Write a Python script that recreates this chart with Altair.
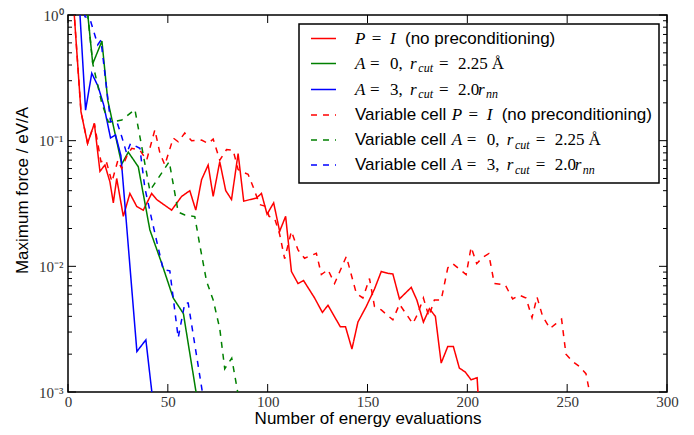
import altair as alt
import pandas as pd

# ---------------- data ----------------
# P = I (no preconditioning)
red_x = [0, 6.5, 9.8, 13.2, 16, 18.5, 21, 22.7, 24.4, 27.7,
         31, 34.4, 37.7, 41.9, 44.4, 51.9, 56.9, 61, 64, 66.9,
         70.2, 72.7, 76, 79, 81.9, 85.2, 88, 94.4, 96.9, 99.7,
         103, 106, 109, 111.9, 115.2, 118, 123.5, 127.4, 130.2, 136.4,
         139, 142.2, 145.2, 149.4, 153.5, 156.9, 160.2, 162.7, 166, 171.9,
         174.7, 178, 181, 184, 186.9, 190.2, 193, 196, 199, 201.9,
         204.9, 205.5]
red_y = [5.3, 0.170, 0.095, 0.137, 0.057, 0.064, 0.047, 0.032, 0.050, 0.025,
         0.038, 0.030, 0.028, 0.038, 0.034, 0.028, 0.036, 0.040, 0.028, 0.049,
         0.064, 0.036, 0.068, 0.040, 0.034, 0.079, 0.033, 0.035, 0.038, 0.026,
         0.032, 0.019, 0.025, 0.0091, 0.0073, 0.0077, 0.0056, 0.0043, 0.0049, 0.0033,
         0.0033, 0.0022, 0.0036, 0.0048, 0.0066, 0.0091, 0.0088, 0.0087, 0.0055, 0.0068,
         0.0054, 0.0036, 0.0046, 0.0040, 0.0017, 0.0023, 0.0023, 0.00155, 0.00144, 0.00125,
         0.0013, 0.0009]

# A = 0, r_cut = 2.25 A
green_x = [8, 12.4, 17, 19.9, 26.9, 30.2, 35.2, 41, 46.9, 52.7, 57.8, 65]
green_y = [2.0, 0.41, 0.62, 0.21, 0.065, 0.081, 0.062, 0.0195, 0.0106, 0.0056, 0.0042, 0.00082]

# A = 3, r_cut = 2.0 r_nn
blue_x = [4, 8.8, 11.9, 15, 17.9, 21.3, 23.8, 26.5, 34.5, 39, 42.5]
blue_y = [3.5, 0.175, 0.344, 0.272, 0.192, 0.105, 0.111, 0.076, 0.0021, 0.0026, 0.00085]

# Variable cell P = I
redv_x = [0, 6.5, 9.8, 13.2, 16.5, 19, 22, 25, 26.9, 29.4,
          31.9, 36, 39.4, 43.5, 46, 48.5, 52.7, 55.2, 58.5, 61.9,
          66.9, 70.2, 72.7, 76, 79.4, 82.7, 85.2, 87.7, 90.2, 92.7,
          96, 99, 100.7, 103.5, 106, 108.5, 111.9, 115.2, 118.5, 124.4,
          126.9, 130.2, 133.5, 139.4, 144.4, 147.7, 151, 153.5, 156.9, 162.7,
          166, 172.7, 175.2, 178, 180.7, 183.5, 186.9, 190.2, 192.7, 196.4,
          199.4, 201.9, 204.7, 207.7, 210.7, 213.5, 219, 222.7, 226, 229.4,
          232.4, 234.9, 237.7, 241.4, 244.4, 247.2, 249.4, 252.7, 256, 259.4,
          261.5]
redv_y = [5.3, 0.170, 0.095, 0.137, 0.068, 0.070, 0.047, 0.070, 0.060, 0.075,
          0.087, 0.084, 0.070, 0.122, 0.080, 0.064, 0.105, 0.098, 0.115, 0.100,
          0.101, 0.095, 0.103, 0.070, 0.085, 0.084, 0.059, 0.056, 0.054, 0.043,
          0.031, 0.030, 0.025, 0.024, 0.018, 0.0115, 0.019, 0.0135, 0.0116, 0.0127,
          0.0086, 0.0094, 0.0073, 0.0120, 0.0061, 0.0056, 0.0080, 0.0048, 0.0045, 0.00375,
          0.0050, 0.0035, 0.0042, 0.0056, 0.0040, 0.0054, 0.0054, 0.0097, 0.0105, 0.0094,
          0.0086, 0.0142, 0.0105, 0.0118, 0.0126, 0.0073, 0.0071, 0.0055, 0.0059, 0.0056,
          0.0039, 0.0057, 0.0040, 0.0032, 0.0035, 0.0038, 0.0020, 0.00175, 0.0016, 0.0014,
          0.00095]

# Variable cell A = 0
greenv_x = [8, 12.4, 16.9, 20.2, 22.7, 26.9, 33.5, 41, 50.7, 55.2,
            58.5, 63.5, 66, 69.4, 72.7, 76, 78.5, 82, 85.5]
greenv_y = [2.0, 0.41, 0.20, 0.141, 0.141, 0.146, 0.177, 0.040, 0.068, 0.027,
            0.0256, 0.0249, 0.0148, 0.0076, 0.0054, 0.0032, 0.00153, 0.00186, 0.0009]

# Variable cell A = 3
bluev_x = [5, 8.5, 11, 14.9, 16.5, 21.3, 24.5, 26.9, 29.4, 31.3,
           36, 38.5, 42, 47.7, 51, 55.2, 58.5, 60.2, 68]
bluev_y = [2.5, 0.97, 0.93, 0.58, 0.63, 0.142, 0.141, 0.108, 0.079, 0.095,
           0.087, 0.042, 0.0234, 0.0094, 0.0092, 0.0027, 0.0051, 0.0051, 0.00085]

series_keys = ["1", "2", "3", "4", "5", "6"]
series_colors = ["#ff0000", "#008000", "#0000ff", "#ff0000", "#008000", "#0000ff"]
series_dash = [[1, 0], [1, 0], [1, 0], [6, 6], [6, 6], [6, 6]]
series_data = [(red_x, red_y), (green_x, green_y), (blue_x, blue_y),
               (redv_x, redv_y), (greenv_x, greenv_y), (bluev_x, bluev_y)]

x_ticks = [0, 50, 100, 150, 200, 250, 300]
y_ticks = [0.001, 0.01, 0.1, 1]
y_minor = [m * 10.0 ** e for e in (-3, -2, -1) for m in range(2, 10)]

# ---------------- build tables ----------------
rows = []
for key, (xs, ys) in zip(series_keys, series_data):
    for a, b in zip(xs, ys):
        rows.append({"series": key, "x": a, "y": b})
df = pd.DataFrame(rows)

W, H = 599, 377

xs_scale = alt.Scale(domain=[0, 300], nice=False, zero=False)
ys_scale = alt.Scale(type="log", domain=[0.001, 1], nice=False)
col_scale = alt.Scale(domain=series_keys, range=series_colors)
dash_scale = alt.Scale(domain=series_keys, range=series_dash)

x_axis = alt.Axis(values=x_ticks, ticks=False, domain=False, grid=False,
                  labelFont="Liberation Serif", labelFontSize=15, labelColor="#333",
                  labelPadding=2, labelFlush=False, labelOverlap=False,
                  title="Number of energy evaluations", titleFont="Liberation Sans",
                  titleFontSize=17, titleFontWeight="normal", titleColor="black",
                  titleX=W / 2, titleY=35, titleBaseline="bottom", titleAlign="center")

y_label_expr = ("'10' + (datum.value >= 0.99 ? '⁰' : datum.value >= 0.099 ? '⁻¹' : "
                "datum.value >= 0.0099 ? '⁻²' : '⁻³')")
y_axis = alt.Axis(values=y_ticks, ticks=False, domain=False, grid=False,
                  labelExpr=y_label_expr, labelFont="Liberation Serif", labelFontSize=15,
                  labelColor="#333", labelPadding=5, labelFlush=False, labelOverlap=False,
                  title="Maximum force / eV/A", titleFont="Liberation Sans",
                  titleFontSize=17, titleFontWeight="normal", titleColor="black",
                  titleX=-46, titleY=175, titleAngle=270, titleBaseline="middle",
                  titleAlign="center")

lines = alt.Chart(df).mark_line(clip=True, strokeWidth=1.5).encode(
    x=alt.X("x:Q", scale=xs_scale, axis=x_axis),
    y=alt.Y("y:Q", scale=ys_scale, axis=y_axis),
    color=alt.Color("series:N", scale=col_scale, legend=None),
    strokeDash=alt.StrokeDash("series:N", scale=dash_scale, legend=None),
    detail="series:N",
)

ymaj = pd.DataFrame({"y": y_ticks})
ymin = pd.DataFrame({"y": y_minor})
xmaj = pd.DataFrame({"x": x_ticks})


def yrule(data, x0, x1):
    return alt.Chart(data).mark_rule(color="black", strokeWidth=1).encode(
        y=alt.Y("y:Q", scale=ys_scale), x=alt.value(x0), x2=alt.value(x1))


def xrule(data, y0, y1):
    return alt.Chart(data).mark_rule(color="black", strokeWidth=1).encode(
        x=alt.X("x:Q", scale=xs_scale), y=alt.value(y0), y2=alt.value(y1))


ticks = [yrule(ymaj, 0, 8), yrule(ymaj, W - 8, W), yrule(ymin, 0, 4), yrule(ymin, W - 4, W),
         xrule(xmaj, H, H - 8), xrule(xmaj, 0, 8)]

main = alt.layer(lines, *ticks)

# ---------------- legend (drawn inside the plot, pixel scales) ----------------
row_y = [23.5, 48.5, 74.5, 100, 125, 150]
base = 287
vc_off = 96.7
segs = []


def add(x, y, t, style):
    segs.append({"tx": x, "ty": y, "text": t, "style": style})


for i in range(6):
    y = row_y[i]
    x0 = base + (vc_off if i >= 3 else 0)
    if i >= 3:
        add(base, y, "Variable cell", "sans")
    kind = i % 3
    if kind == 0:
        add(x0, y, "P", "it")
        add(x0 + 16.7, y, "=", "rm")
        add(x0 + 35, y, "I", "it")
        add(x0 + 50, y, "(no preconditioning)", "sans")
    else:
        add(x0, y, "A", "it")
        add(x0 + 15, y, "=", "rm")
        add(x0 + 35, y, "0," if kind == 1 else "3,", "rm")
        add(x0 + 55, y, "r", "it")
        add(x0 + 63.3, y + 4.5, "cut", "sub")
        add(x0 + 84, y, "=", "rm")
        if kind == 1:
            add(x0 + 103, y, "2.25", "rm")
            add(x0 + 136.7, y, "Å", "rm")
        else:
            add(x0 + 103, y, "2.0", "rm")
            add(x0 + 123, y, "r", "it")
            add(x0 + 131, y + 4.5, "nn", "sub")
seg_df = pd.DataFrame(segs)

px_x = alt.Scale(domain=[0, W], range=[0, W], nice=False, zero=False)
px_y = alt.Scale(domain=[0, H], range=[0, H], nice=False, zero=False)

box_df = pd.DataFrame({"bx": [231], "bx2": [591], "by": [9], "by2": [168]})
legend_box = alt.Chart(box_df).mark_rect(
    fill="white", stroke="black", strokeWidth=1.5).encode(
    x=alt.X("bx:Q", scale=px_x, axis=None), x2="bx2:Q",
    y=alt.Y("by:Q", scale=px_y, axis=None), y2="by2:Q")

sample_df = pd.DataFrame({"series": series_keys, "lx1": [243] * 6, "lx2": [268] * 6, "ly": row_y})
legend_lines = alt.Chart(sample_df).mark_rule(strokeWidth=1.5).encode(
    x=alt.X("lx1:Q", scale=px_x, axis=None), x2="lx2:Q",
    y=alt.Y("ly:Q", scale=px_y, axis=None),
    color=alt.Color("series:N", scale=col_scale, legend=None),
    strokeDash=alt.StrokeDash("series:N", scale=dash_scale, legend=None),
)

styles = {
    "sans": dict(font="Liberation Sans", fontSize=17),
    "rm": dict(font="Liberation Serif", fontSize=17),
    "it": dict(font="Liberation Serif", fontSize=17, fontStyle="italic"),
    "sub": dict(font="Liberation Serif", fontSize=12, fontStyle="italic"),
}
legend_texts = []
for st, kw in styles.items():
    legend_texts.append(
        alt.Chart(seg_df[seg_df["style"] == st]).mark_text(
            align="left", baseline="middle", color="black", **kw).encode(
            x=alt.X("tx:Q", scale=px_x, axis=None),
            y=alt.Y("ty:Q", scale=px_y, axis=None),
            text="text:N",
        )
    )

legend = alt.layer(legend_box, legend_lines, *legend_texts)

chart = alt.layer(main, legend).resolve_scale(
    x="independent", y="independent"
).properties(
    width=W, height=H,
    autosize=alt.AutoSizeParams(type="none"),
    padding={"left": 60, "top": 7, "right": 19, "bottom": 35},
).configure(background="white").configure_view(stroke="black", strokeWidth=1.5)

chart.save("out.html", embed_options={"renderer": "svg", "actions": False})
